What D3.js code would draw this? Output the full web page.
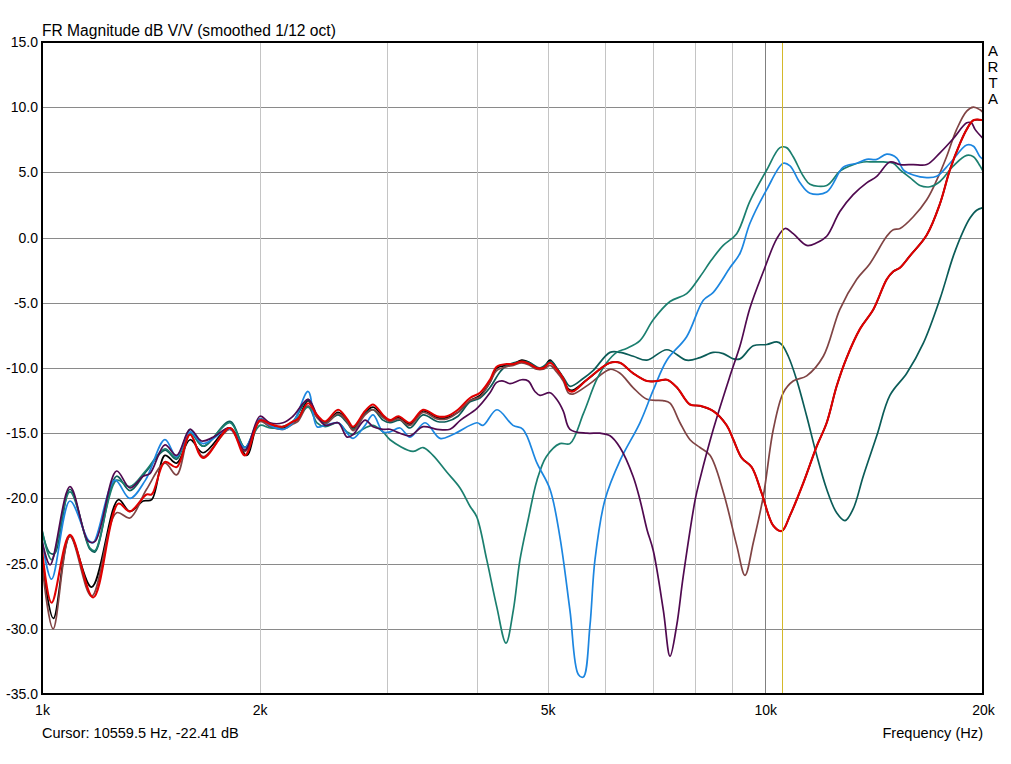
<!DOCTYPE html>
<html>
<head>
<meta charset="utf-8">
<script src="https://cdn.jsdelivr.net/npm/d3@7"></script>
<style>
  body { margin: 0; background: #fff; }
  svg { display: block; font-family: "Liberation Sans", Arial, sans-serif; }
</style>
</head>
<body>
<div id="container"></div>
<script>
/* Axis values */
const yTicks = [15, 10, 5, 0, -5, -10, -15, -20, -25, -30, -35];
const xLabels = [1000, 2000, 5000, 10000, 20000];
const xGrid = [2000, 3000, 4000, 5000, 6000, 7000, 8000, 9000];
const xMajor = [10000];
const cursorHz = 10559.5;

/* Measurements: [Hz, dB] */
const blackCurve = [[1000,-24.7],[1037,-29.2],[1093,-22.9],[1171,-26.8],[1275,-20.1],[1323,-21.0],[1380,-20.2],[1418,-20.1],[1479,-16.7],[1535,-17.3],[1602,-15.5],[1670,-16.5],[1819,-14.6],[1918,-16.7],[2001,-13.9],[2066,-14.4],[2154,-14.6],[2223,-14.2],[2259,-13.9],[2333,-12.5],[2400,-13.7],[2463,-14.2],[2567,-13.4],[2641,-14.0],[2692,-14.6],[2797,-13.4],[2869,-13.0],[2961,-13.7],[3028,-14.1],[3110,-13.8],[3227,-14.3],[3364,-13.3],[3517,-13.8],[3630,-13.8],[3759,-13.4],[3906,-12.5],[4033,-12.1],[4163,-11.1],[4253,-10.0],[4390,-9.8],[4483,-9.7],[4604,-9.4],[4727,-9.6],[4829,-10.0],[4933,-10.0],[5039,-9.4],[5147,-10.0],[5257,-10.8],[5342,-11.6],[5421,-11.7],[5668,-10.9],[6100,-9.6],[6297,-9.6],[6564,-10.4],[6863,-11.0],[7085,-11.0],[7314,-10.9],[7550,-11.5],[7869,-12.8],[8124,-12.9],[8475,-13.3],[8845,-14.4],[9034,-15.5],[9278,-16.9],[9577,-17.6],[9886,-19.6],[10260,-22.1],[10540,-22.5],[10820,-21.3],[11290,-18.8],[11780,-16.0],[12160,-14.2],[12550,-11.4],[12960,-9.2],[13520,-7.0],[14110,-5.5],[14720,-3.2],[15030,-2.6],[15360,-2.3],[15850,-1.4],[16720,0.2],[17440,2.6],[18000,5.2],[18580,7.2],[18990,8.3],[19400,9.0],[20000,9.0]];

const darkTealCurve = [[1000,-22.5],[1026,-24.2],[1042,-24.2],[1093,-19.3],[1165,-23.9],[1184,-24.1],[1268,-18.3],[1323,-19.4],[1395,-17.9],[1479,-16.3],[1535,-17.0],[1602,-14.7],[1670,-16.0],[1819,-14.1],[1908,-16.1],[2001,-14.0],[2066,-14.5],[2154,-14.5],[2223,-14.1],[2333,-12.4],[2400,-13.7],[2463,-14.2],[2567,-13.6],[2641,-14.2],[2692,-14.7],[2797,-13.5],[2869,-13.2],[2961,-14.0],[3028,-14.2],[3126,-14.0],[3227,-14.6],[3364,-13.6],[3517,-14.1],[3630,-14.1],[3759,-13.7],[3906,-12.6],[4033,-12.3],[4163,-11.5],[4297,-10.3],[4390,-9.8],[4604,-9.5],[4727,-9.6],[4880,-10.0],[5060,-9.5],[5147,-10.0],[5257,-10.7],[5370,-11.4],[5600,-10.8],[5780,-10.2],[6100,-8.8],[6300,-8.8],[6570,-9.1],[6860,-9.4],[7310,-8.6],[7790,-9.4],[8124,-9.2],[8475,-8.8],[8748,-8.9],[9034,-9.3],[9228,-9.3],[9625,-8.3],[10050,-8.2],[10370,-8.0],[10540,-8.2],[10760,-9.1],[11050,-10.9],[11410,-13.7],[11780,-16.7],[12160,-19.3],[12550,-21.1],[12890,-21.7],[13230,-20.8],[13660,-18.3],[14260,-15.2],[14870,-12.1],[15690,-10.4],[16540,-8.1],[17440,-4.7],[18200,-1.4],[18780,0.5],[19190,1.5],[19600,2.1],[20000,2.3]];

const brownCurve = [[1000,-25.0],[1036,-30.0],[1093,-22.9],[1171,-27.5],[1268,-21.1],[1323,-21.5],[1395,-19.3],[1479,-17.3],[1535,-18.2],[1602,-15.1],[1670,-16.8],[1819,-14.7],[1908,-16.4],[2001,-14.1],[2066,-14.5],[2154,-14.7],[2223,-14.3],[2259,-14.1],[2333,-12.9],[2400,-13.8],[2463,-14.3],[2567,-13.5],[2641,-14.1],[2692,-14.8],[2797,-13.6],[2869,-13.2],[2961,-13.8],[3028,-14.1],[3110,-13.9],[3227,-14.4],[3364,-13.4],[3517,-13.9],[3630,-13.9],[3759,-13.4],[3906,-12.5],[4033,-12.2],[4163,-11.1],[4253,-10.2],[4390,-9.9],[4483,-9.8],[4604,-9.6],[4727,-9.8],[4829,-10.1],[4933,-10.1],[5039,-9.8],[5147,-10.3],[5257,-11.0],[5342,-11.9],[5421,-12.0],[5722,-11.2],[6100,-10.1],[6297,-10.4],[6564,-11.5],[6863,-12.4],[7222,-12.5],[7384,-12.7],[7623,-14.2],[7869,-15.5],[8124,-16.1],[8387,-16.7],[8748,-19.5],[9130,-23.6],[9375,-25.9],[9625,-23.4],[9940,-19.8],[10260,-14.7],[10590,-11.9],[10930,-11.0],[11410,-10.6],[12030,-9.1],[12680,-5.5],[13380,-3.2],[13950,-2.0],[14720,0.1],[15030,0.6],[15360,0.7],[16020,1.6],[16720,2.9],[17260,4.4],[17810,6.2],[18390,8.3],[18990,9.7],[19400,10.0],[19810,9.8],[20000,9.6]];

const tealCurve = [[1000,-22.4],[1031,-24.7],[1093,-19.5],[1165,-23.8],[1184,-24.0],[1268,-18.6],[1323,-19.1],[1395,-17.8],[1479,-16.2],[1535,-16.9],[1602,-15.0],[1670,-16.0],[1819,-14.2],[1908,-16.1],[2001,-14.4],[2066,-14.6],[2154,-14.5],[2223,-14.2],[2333,-13.0],[2400,-14.2],[2463,-14.5],[2567,-14.2],[2641,-14.9],[2692,-15.1],[2797,-14.6],[2869,-14.4],[2961,-14.9],[3028,-15.5],[3258,-16.4],[3364,-16.1],[3472,-16.7],[3630,-18.0],[3784,-19.2],[3906,-20.6],[3990,-21.4],[4120,-24.7],[4253,-28.3],[4380,-31.1],[4483,-28.6],[4580,-24.7],[4702,-21.6],[4835,-18.6],[4980,-16.8],[5200,-15.8],[5370,-15.8],[5604,-13.5],[5846,-10.9],[6035,-9.6],[6230,-8.8],[6430,-8.5],[6710,-7.9],[7000,-6.3],[7384,-4.9],[7786,-4.3],[8124,-3.0],[8430,-1.7],[8748,-0.6],[9130,0.3],[9524,2.8],[10050,5.2],[10480,6.9],[10700,6.9],[10930,6.2],[11290,4.7],[11530,4.1],[12160,4.0],[12680,5.1],[13090,5.5],[13660,5.8],[14110,5.8],[14560,5.8],[15030,5.7],[15360,5.2],[15850,4.6],[16360,4.0],[16890,3.9],[17440,4.3],[18200,5.5],[18990,6.3],[19400,6.2],[19810,5.5],[20000,5.1]];

const blueCurve = [[1000,-23.2],[1031,-26.2],[1093,-20.2],[1159,-23.2],[1177,-23.4],[1261,-18.6],[1323,-20.0],[1390,-18.6],[1479,-15.5],[1535,-16.8],[1602,-14.9],[1670,-15.8],[1819,-14.7],[1908,-16.1],[2001,-13.9],[2066,-14.4],[2154,-14.7],[2223,-14.2],[2333,-11.8],[2400,-14.5],[2463,-14.4],[2567,-14.2],[2641,-15.0],[2692,-15.4],[2797,-14.4],[2869,-13.6],[2961,-14.9],[3028,-14.9],[3126,-14.6],[3227,-15.3],[3385,-14.2],[3551,-15.4],[3700,-15.1],[3994,-14.2],[4071,-14.4],[4256,-13.2],[4479,-14.4],[4624,-14.7],[4835,-17.3],[5039,-19.3],[5202,-23.0],[5370,-28.6],[5515,-33.5],[5604,-33.7],[5722,-29.8],[5815,-24.7],[6003,-20.1],[6297,-17.1],[6710,-14.2],[7000,-11.7],[7310,-9.4],[7786,-7.6],[8210,-4.8],[8475,-4.2],[8939,-2.3],[9228,-1.2],[9524,1.1],[10050,3.7],[10590,5.7],[10820,5.5],[11170,4.2],[11530,3.4],[12160,3.5],[12820,5.4],[13380,5.7],[13810,6.0],[14260,6.0],[14720,6.4],[15200,6.1],[15520,5.2],[16020,4.8],[16720,4.6],[17260,4.7],[18000,5.7],[18990,7.1],[19400,7.0],[19810,6.2],[20000,6.0]];

const purpleCurve = [[1000,-23.2],[1026,-25.1],[1093,-19.1],[1159,-23.3],[1184,-23.3],[1268,-17.9],[1323,-19.2],[1380,-18.3],[1410,-18.1],[1479,-15.9],[1535,-16.7],[1602,-14.7],[1662,-15.6],[1726,-15.3],[1819,-14.6],[1908,-16.3],[2001,-13.7],[2066,-14.2],[2154,-14.2],[2223,-13.7],[2333,-12.4],[2400,-13.6],[2463,-14.4],[2567,-14.2],[2641,-15.3],[2692,-15.1],[2797,-14.0],[2869,-14.5],[2961,-14.7],[3028,-14.7],[3126,-15.0],[3227,-15.2],[3364,-14.5],[3517,-14.7],[3665,-14.7],[3790,-14.0],[3994,-13.1],[4163,-11.9],[4253,-11.1],[4343,-11.0],[4436,-11.2],[4604,-10.9],[4702,-11.0],[4803,-11.8],[4881,-12.1],[5039,-11.9],[5147,-12.4],[5257,-13.3],[5370,-14.7],[5668,-15.0],[5907,-15.0],[6100,-15.2],[6297,-16.1],[6564,-18.3],[6710,-20.1],[6863,-22.4],[7000,-24.0],[7230,-28.6],[7384,-32.1],[7540,-29.8],[7700,-26.0],[8000,-20.1],[8124,-18.5],[8475,-14.7],[8939,-10.6],[9228,-8.3],[9524,-5.4],[9940,-2.6],[10370,-0.1],[10650,0.7],[10930,0.3],[11410,-0.6],[11780,-0.4],[12160,0.1],[12680,2.0],[13230,3.3],[13810,4.2],[14260,4.7],[14870,5.8],[15360,5.6],[16020,5.6],[16720,5.6],[17440,6.5],[18200,7.6],[18990,8.8],[19270,8.8],[19500,8.3],[20000,7.6]];

const redCurve = [[1000,-23.9],[1031,-28.0],[1093,-22.8],[1177,-27.6],[1275,-20.4],[1323,-21.0],[1395,-19.7],[1418,-19.7],[1479,-17.2],[1535,-17.6],[1602,-15.1],[1670,-16.9],[1819,-14.6],[1908,-16.7],[2001,-14.0],[2066,-14.3],[2154,-14.5],[2223,-14.1],[2259,-13.9],[2333,-12.7],[2400,-13.6],[2463,-14.1],[2567,-13.2],[2641,-13.9],[2692,-14.5],[2797,-13.3],[2869,-12.8],[2961,-13.6],[3028,-14.0],[3110,-13.7],[3227,-14.2],[3364,-13.2],[3517,-13.7],[3630,-13.7],[3759,-13.2],[3906,-12.3],[4033,-11.9],[4163,-10.9],[4253,-9.9],[4390,-9.7],[4483,-9.7],[4604,-9.5],[4727,-9.7],[4829,-10.0],[4933,-10.0],[5039,-9.6],[5147,-10.1],[5257,-10.8],[5342,-11.7],[5421,-11.8],[5668,-10.9],[6100,-9.6],[6297,-9.6],[6564,-10.4],[6863,-11.0],[7085,-11.0],[7314,-10.9],[7550,-11.5],[7869,-12.8],[8124,-12.9],[8475,-13.3],[8845,-14.4],[9034,-15.5],[9278,-16.9],[9577,-17.6],[9886,-19.6],[10260,-22.1],[10540,-22.5],[10820,-21.3],[11290,-18.8],[11780,-16.0],[12160,-14.2],[12550,-11.4],[12960,-9.2],[13520,-7.0],[14110,-5.5],[14720,-3.2],[15030,-2.6],[15360,-2.3],[15850,-1.4],[16720,0.2],[17440,2.6],[18000,5.2],[18580,7.2],[18990,8.3],[19400,9.0],[20000,9.0]];

const series = [
  { values: blackCurve,    color: "#000000", w: 1.7 },
  { values: darkTealCurve, color: "#0b5c58", w: 1.7 },
  { values: brownCurve,    color: "#804444", w: 1.7 },
  { values: tealCurve,     color: "#1b7f6f", w: 1.7 },
  { values: blueCurve,     color: "#1c86e0", w: 1.7 },
  { values: purpleCurve,   color: "#500a50", w: 1.7 },
  { values: redCurve,      color: "#e00000", w: 2.1 }
];

/* Dimensions */
const width = 1011, height = 764;
const margin = { left: 42, top: 42, right: 28, bottom: 70 };
const plotW = width - margin.left - margin.right;
const plotH = height - margin.top - margin.bottom;
const fontSize = 14;

const svg = d3.select("#container").append("svg")
  .attr("width", width)
  .attr("height", height);

svg.append("rect").attr("width", width).attr("height", height).attr("fill", "#fff");

const x = d3.scaleLog().domain([1000, 20000]).range([0, plotW]);
const y = d3.scaleLinear().domain([-35, 15]).range([plotH, 0]);

const plot = svg.append("g")
  .attr("transform", "translate(" + margin.left + "," + margin.top + ")");

/* Horizontal grid */
plot.append("g")
  .call(d3.axisLeft(y).tickValues(yTicks).tickSize(-plotW).tickFormat(""))
  .call(g => g.select(".domain").remove())
  .selectAll("line").attr("stroke", "#8a8a8a").attr("shape-rendering", "crispEdges");

/* Vertical grid */
plot.append("g")
  .attr("transform", "translate(0," + plotH + ")")
  .call(d3.axisBottom(x).tickValues(xGrid).tickSize(-plotH).tickFormat(""))
  .call(g => g.select(".domain").remove())
  .selectAll("line").attr("stroke", "#c4c4c4").attr("shape-rendering", "crispEdges");

plot.append("g")
  .attr("transform", "translate(0," + plotH + ")")
  .call(d3.axisBottom(x).tickValues(xMajor).tickSize(-plotH).tickFormat(""))
  .call(g => g.select(".domain").remove())
  .selectAll("line").attr("stroke", "#808080").attr("shape-rendering", "crispEdges");

/* Curves */
svg.append("clipPath").attr("id", "clip")
  .append("rect").attr("width", plotW).attr("height", plotH);

const line = d3.line()
  .x(d => x(d[0]))
  .y(d => y(d[1]))
  .curve(d3.curveCatmullRom.alpha(0.5));

plot.append("g").attr("clip-path", "url(#clip)")
  .selectAll("path")
  .data(series)
  .enter().append("path")
    .attr("d", d => line(d.values))
    .attr("fill", "none")
    .attr("stroke", d => d.color)
    .attr("stroke-width", d => d.w)
    .attr("stroke-linejoin", "round");

/* Cursor */
plot.append("line")
  .attr("x1", x(cursorHz)).attr("x2", x(cursorHz))
  .attr("y1", 0).attr("y2", plotH)
  .attr("stroke", "#d4b82a")
  .attr("stroke-width", 1)
  .attr("shape-rendering", "crispEdges");

/* Frame */
plot.append("rect")
  .attr("x", 0).attr("y", 0)
  .attr("width", plotW).attr("height", plotH)
  .attr("fill", "none")
  .attr("stroke", "#000")
  .attr("stroke-width", 1.2)
  .attr("shape-rendering", "crispEdges");

/* Y labels */
plot.append("g")
  .call(d3.axisLeft(y).tickValues(yTicks).tickSize(0).tickPadding(4).tickFormat(d => d.toFixed(1)))
  .call(g => g.select(".domain").remove())
  .selectAll("text")
    .attr("fill", "#000")
    .style("font-size", fontSize + "px")
    .style("font-family", "Liberation Sans, Arial, sans-serif");

/* X labels */
plot.append("g")
  .attr("transform", "translate(0," + plotH + ")")
  .call(d3.axisBottom(x).tickValues(xLabels).tickSize(0).tickPadding(11).tickFormat(d => (d / 1000) + "k"))
  .call(g => g.select(".domain").remove())
  .selectAll("text")
    .attr("fill", "#000")
    .style("font-size", fontSize + "px")
    .style("font-family", "Liberation Sans, Arial, sans-serif");

/* Texts */
svg.append("text")
  .attr("x", margin.left).attr("y", 36)
  .style("font-size", "15.6px")
  .text("FR Magnitude dB V/V (smoothed 1/12 oct)");

svg.append("text")
  .attr("x", margin.left).attr("y", 738)
  .style("font-size", "14.5px")
  .text("Cursor: 10559.5 Hz, -22.41 dB");

svg.append("text")
  .attr("x", margin.left + plotW).attr("y", 738)
  .attr("text-anchor", "end")
  .style("font-size", "14.6px")
  .text("Frequency (Hz)");

svg.append("g").selectAll("text")
  .data(["A", "R", "T", "A"])
  .enter().append("text")
    .attr("x", 993)
    .attr("y", (d, i) => 56 + i * 16)
    .attr("text-anchor", "middle")
    .style("font-size", "15px")
    .text(d => d);
</script>
</body>
</html>
